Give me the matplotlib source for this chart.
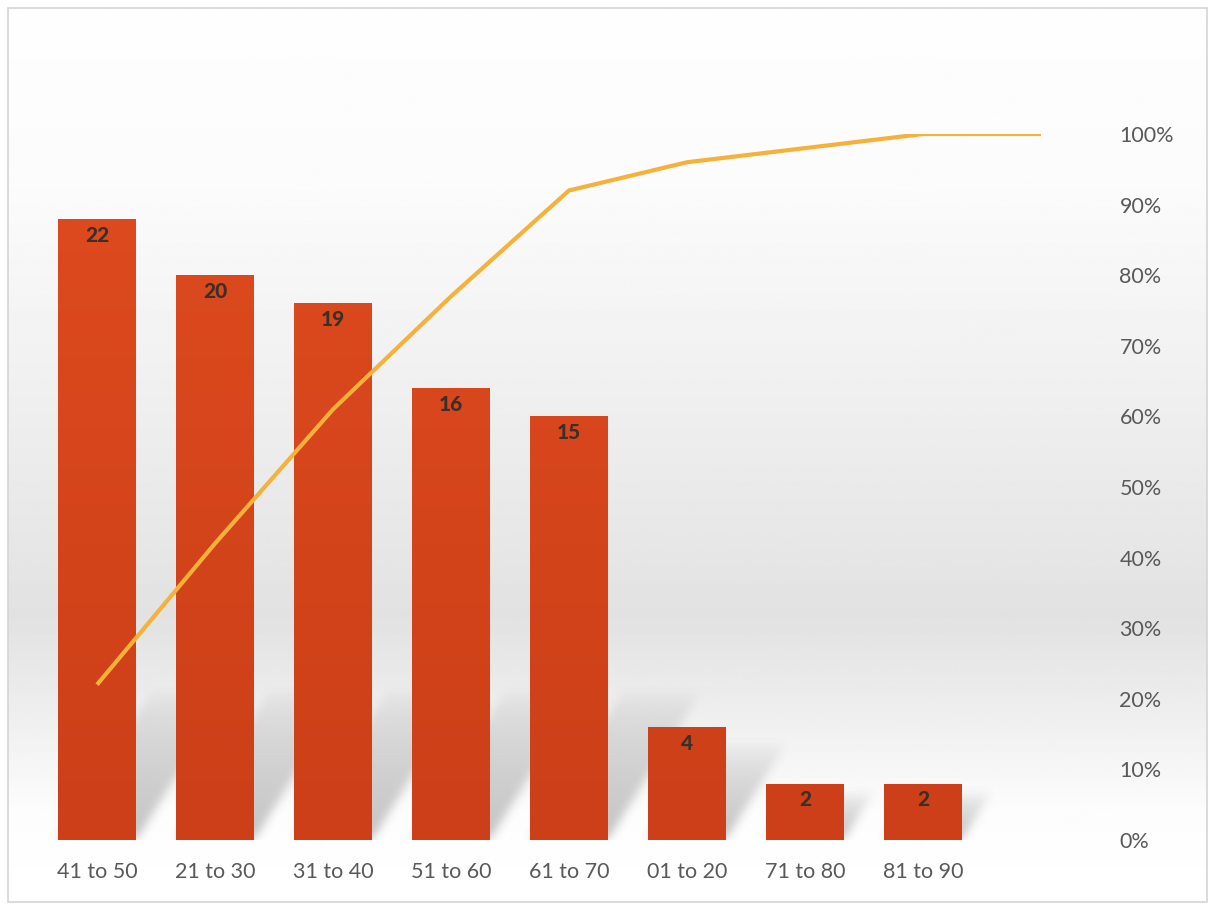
import numpy as np
import matplotlib
matplotlib.use("Agg")
import matplotlib.pyplot as plt
from matplotlib.patches import Rectangle
from matplotlib.colors import LinearSegmentedColormap

_BAR_TOP = "#df4b1f"
_BAR_BOT = "#cc3f18"
_LINE = "#f5b13a"
_TEXT = "#595959"
_LABEL = "#3a3028"

categories = ["41 to 50", "21 to 30", "31 to 40", "51 to 60", "61 to 70",
              "01 to 20", "71 to 80", "81 to 90", ""]
counts = [22, 20, 19, 16, 15, 4, 2, 2]
cum_pct = [0.22, 0.42, 0.61, 0.77, 0.92, 0.96, 0.98, 1.00, 1.00]
pct_ticks = [0.0, 0.1, 0.2, 0.3, 0.4, 0.5, 0.6, 0.7, 0.8, 0.9, 1.0]

plt.rcParams["font.family"] = ["Lato", "DejaVu Sans"]


def _box_blur(a, r, passes=3):
    k = np.ones(2 * r + 1) / (2 * r + 1)
    for _ in range(passes):
        a = np.apply_along_axis(lambda v: np.convolve(v, k, mode="same"), 0, a)
        a = np.apply_along_axis(lambda v: np.convolve(v, k, mode="same"), 1, a)
    return a


W, H = 1215, 910
fig = plt.figure(figsize=(W / 100, H / 100), dpi=100)

# soft grey gradient background inside a thin frame
bg = fig.add_axes([8 / W, 8 / H, (W - 16) / W, (H - 16) / H])
rows = np.linspace(0, 1, 400)
shade = np.interp(rows, [0.0, 0.2, 0.62, 0.68, 0.78, 0.9, 1.0],
                  [0.995, 0.985, 0.90, 0.885, 0.93, 0.99, 1.0])
img = np.repeat(shade[:, None], 2, axis=1)
bg.imshow(img, cmap="gray", vmin=0, vmax=1, aspect="auto", extent=[0, 1, 1, 0])
bg.set_axis_off()
fig.add_artist(Rectangle((8 / W, 8 / H), (W - 16) / W, (H - 16) / H,
                         transform=fig.transFigure, fill=False,
                         edgecolor="#d4d4d4", linewidth=1.2))

ax = fig.add_axes([38 / W, 70 / H, 1062 / W, 706 / H])
ax.patch.set_alpha(0)
x = np.arange(len(categories))
width = 0.66
xlim = (-0.5, len(categories) - 0.5)
ylim = (0, 25)

# slanted soft shadows behind the bars, rendered as a blurred alpha image
ext_y = (-0.4, 7.0)
gx = np.linspace(xlim[0], xlim[1], 1062)
gy = np.linspace(ext_y[0], ext_y[1], int((ext_y[1] - ext_y[0]) * 28.24))
X, Y = np.meshgrid(gx, gy)
mask = np.zeros_like(X)
skew = 0.15
for xi, h in zip(x, counts):
    t = min(0.85 * h, 5.3)
    x0, x1 = xi - width / 2, xi + width / 2
    inside = (Y >= 0) & (Y <= t) & (X >= x0 + skew * Y) & (X <= x1 + skew * Y)
    val = np.clip(1 - Y / t, 0, 1) ** 0.6
    mask = np.maximum(mask, np.where(inside, val, 0))
mask = _box_blur(mask, 4)
rgba = np.zeros(mask.shape + (4,))
rgba[..., :3] = 0.45
rgba[..., 3] = 0.42 * mask
ax.imshow(rgba, origin="lower", aspect="auto", zorder=1,
          extent=[xlim[0], xlim[1], ext_y[0], ext_y[1]], interpolation="bilinear")

bars = ax.bar(x[:len(counts)], counts, width=width, color=_BAR_TOP, zorder=2)

# subtle vertical shading on each bar
bar_cmap = LinearSegmentedColormap.from_list("bar", [_BAR_BOT, _BAR_TOP])
grad = np.linspace(0, 1, 256)[:, None]
for b in bars:
    im = ax.imshow(grad, cmap=bar_cmap, origin="lower", aspect="auto", zorder=2.1,
                   extent=[b.get_x(), b.get_x() + b.get_width(), 0, ylim[1]])
    im.set_clip_path(b)

for b, v in zip(bars, counts):
    ax.annotate(str(v), (b.get_x() + b.get_width() / 2, b.get_height()),
                xytext=(0, -5), textcoords="offset points", ha="center", va="top",
                fontsize=15, fontweight="black", color=_LABEL, zorder=3)

ax.set_xlim(*xlim)
ax.set_ylim(*ylim)
ax.set_xticks(x)
ax.set_xticklabels(categories, fontsize=15.5, color=_TEXT)
ax.tick_params(axis="x", length=0, pad=16)
ax.set_yticks([])
for s in ax.spines.values():
    s.set_visible(False)

ax2 = ax.twinx()
ax2.plot(x, cum_pct, color=_LINE, linewidth=3, solid_capstyle="butt", zorder=4)
ax2.set_ylim(0, 1)
ax2.set_yticks(pct_ticks)
ax2.set_yticklabels([f"{int(round(p * 100))}%" for p in pct_ticks],
                    fontsize=15.5, color=_TEXT)
ax2.tick_params(axis="y", length=0, pad=14)
for s in ax2.spines.values():
    s.set_visible(False)

fig.savefig("out.png", dpi=100)
